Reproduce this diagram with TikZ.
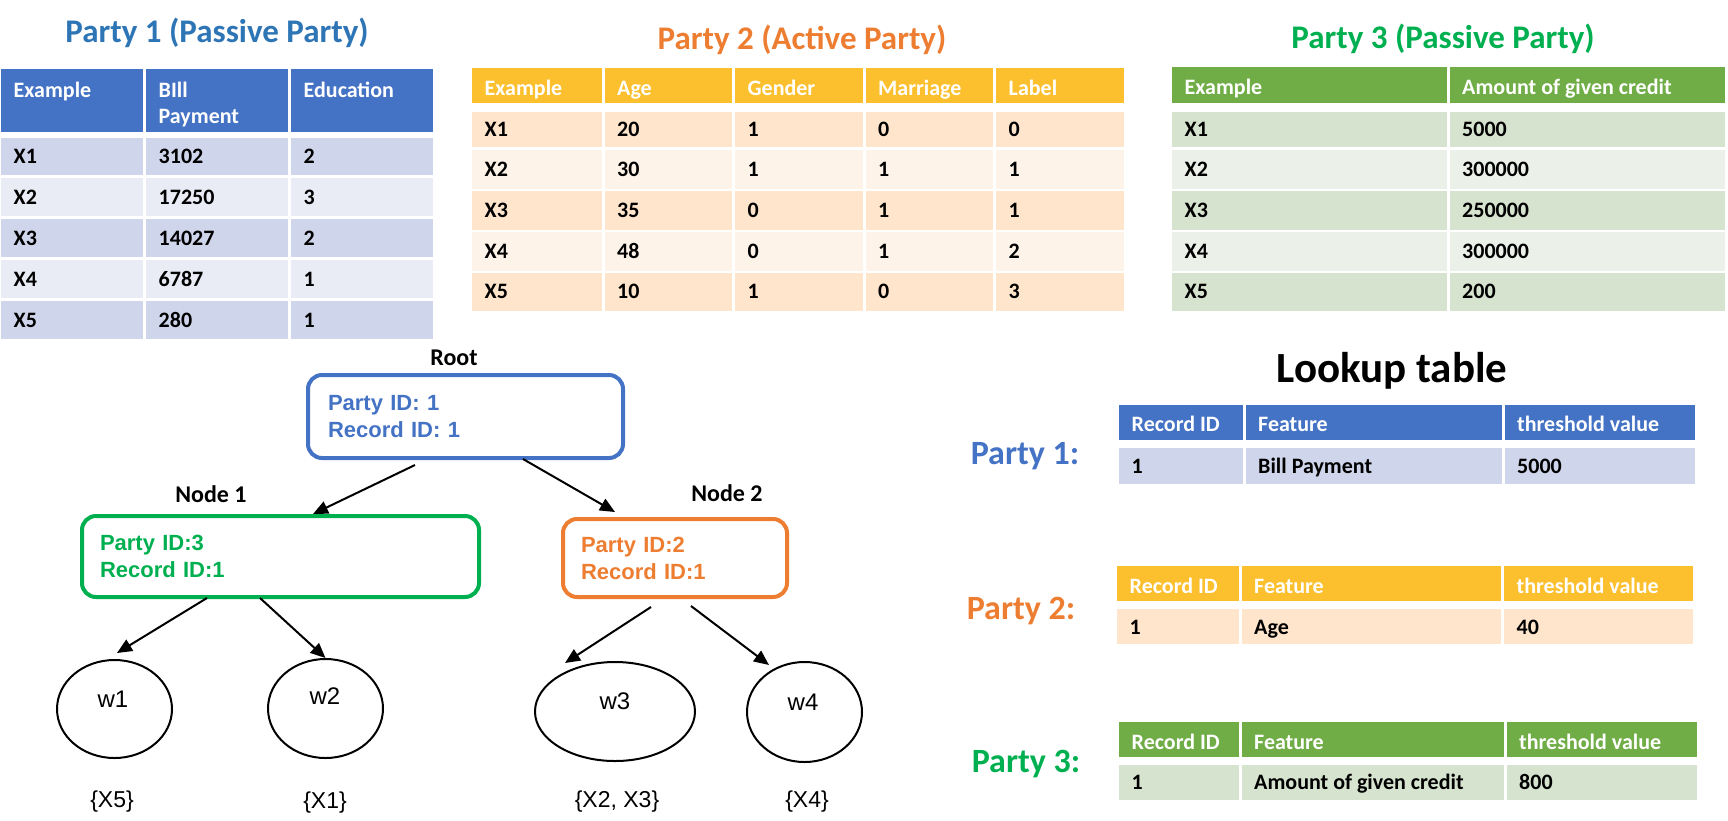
\documentclass[tikz,border=0pt]{standalone}
\usepackage{fontspec}
\setmainfont{Carlito}
\newfontfamily\arialf{Liberation Sans}
\usetikzlibrary{arrows.meta,calc,shapes.geometric}

\definecolor{hblue}{HTML}{4472C4}
\definecolor{tblue}{HTML}{2E75B6}
\definecolor{rblueA}{HTML}{CFD5EA}
\definecolor{rblueB}{HTML}{E9EBF5}
\definecolor{hgold}{HTML}{FCBF2D}
\definecolor{rgoldA}{HTML}{FEE5CC}
\definecolor{rgoldB}{HTML}{FEF3E8}
\definecolor{hgreen}{HTML}{70AD47}
\definecolor{rgreenA}{HTML}{D6E3CF}
\definecolor{rgreenB}{HTML}{EBF1E9}
\definecolor{pgreen}{HTML}{00B050}
\definecolor{porange}{HTML}{ED7D31}

% #1 name prefix, #2 y top, #3 y bottom, #4 fill, #5 text style, #6 baseline, #7 list xa/xb/text
\newcommand\tabrow[7]{%
  \foreach \xa/\xb/\tx [count=\ci] in {#7}{%
    \fill[#4] (\xa+1.5,#2) rectangle (\xb-1.5,#3);
    \node[#5] (#1-\ci) at (\xa+14,#6) {\tx};
  }}

\begin{document}
\begin{tikzpicture}[x=1pt,y=-1pt,
  tabtxt/.style={anchor=base west, inner sep=0pt, font=\fontsize{22}{26}\selectfont\bfseries, text=black},
  hdtxt/.style={tabtxt, text=white},
  ttl/.style={anchor=base, inner sep=0pt, font=\fontsize{33}{40}\selectfont\bfseries},
  plabel/.style={anchor=base, inner sep=0pt, font=\fontsize{34}{40}\selectfont\bfseries},
  treebox/.style={draw, line width=4pt, rounded corners=14pt, align=left, inner xsep=18pt, inner ysep=0pt, font=\arialf\bfseries\fontsize{22}{27}\selectfont},
  tlabel/.style={anchor=base, inner sep=0pt, font=\fontsize{24}{28}\selectfont\bfseries},
  leaf/.style={ellipse, draw, line width=2pt, inner sep=0pt},
  leaftxt/.style={anchor=base, inner sep=0pt, font=\arialf\fontsize{24}{28}\selectfont},
  settxt/.style={anchor=base, inner sep=0pt, font=\arialf\fontsize{23}{27}\selectfont},
  arr/.style={line width=2pt, -{Triangle[length=15pt,width=13pt]}},
]
\useasboundingbox (0,0) rectangle (1728,820);

% ---------------- Party 1 table ----------------
\node[ttl, text=tblue] (t1) at (217,42) {Party 1 (Passive Party)};
\foreach \xa/\xb in {-0.5/144.5,144.5/289.5,289.5/434.5} \fill[hblue] (\xa+1.5,69) rectangle (\xb-1.5,132);
\node[hdtxt] (p1h1) at (13.5,97) {Example};
\node[hdtxt] (p1h2) at (158.5,97) {BIll};
\node[hdtxt] (p1h2b) at (158.5,123) {Payment};
\node[hdtxt] (p1h3) at (303.5,97) {Education};
\tabrow{p1r1}{138}{175}{rblueA}{tabtxt}{163.5}{-0.5/144.5/X1,144.5/289.5/3102,289.5/434.5/2}
\tabrow{p1r2}{178}{216}{rblueB}{tabtxt}{204.5}{-0.5/144.5/X2,144.5/289.5/17250,289.5/434.5/3}
\tabrow{p1r3}{218.5}{257}{rblueA}{tabtxt}{245.5}{-0.5/144.5/X3,144.5/289.5/14027,289.5/434.5/2}
\tabrow{p1r4}{260}{298}{rblueB}{tabtxt}{286.5}{-0.5/144.5/X4,144.5/289.5/6787,289.5/434.5/1}
\tabrow{p1r5}{301}{339}{rblueA}{tabtxt}{327.5}{-0.5/144.5/X5,144.5/289.5/280,289.5/434.5/1}

% ---------------- Party 2 table ----------------
\node[ttl, text=porange] (t2) at (802,49) {Party 2 (Active Party)};
\tabrow{p2h}{68}{103}{hgold}{hdtxt}{95}{470.5/603/Example,603/733.5/Age,733.5/864/Gender,864/994.5/Marriage,994.5/1125.5/Label}
\tabrow{p2r1}{111.5}{147}{rgoldA}{tabtxt}{136}{470.5/603/X1,603/733.5/20,733.5/864/1,864/994.5/0,994.5/1125.5/0}
\tabrow{p2r2}{149.5}{188.5}{rgoldB}{tabtxt}{176.5}{470.5/603/X2,603/733.5/30,733.5/864/1,864/994.5/1,994.5/1125.5/1}
\tabrow{p2r3}{191}{229.5}{rgoldA}{tabtxt}{217}{470.5/603/X3,603/733.5/35,733.5/864/0,864/994.5/1,994.5/1125.5/1}
\tabrow{p2r4}{232}{270.5}{rgoldB}{tabtxt}{258}{470.5/603/X4,603/733.5/48,733.5/864/0,864/994.5/1,994.5/1125.5/2}
\tabrow{p2r5}{273}{311}{rgoldA}{tabtxt}{298.5}{470.5/603/X5,603/733.5/10,733.5/864/1,864/994.5/0,994.5/1125.5/3}

% ---------------- Party 3 table ----------------
\node[ttl, text=pgreen] (t3) at (1443,48) {Party 3 (Passive Party)};
\tabrow{p3h}{67}{103}{hgreen}{hdtxt}{94.5}{1170.5/1448/Example,1448/1726.5/Amount of given credit}
\tabrow{p3r1}{111.5}{147}{rgreenA}{tabtxt}{136}{1170.5/1448/X1,1448/1726.5/5000}
\tabrow{p3r2}{149.5}{188.5}{rgreenB}{tabtxt}{176.5}{1170.5/1448/X2,1448/1726.5/300000}
\tabrow{p3r3}{191}{229.5}{rgreenA}{tabtxt}{217}{1170.5/1448/X3,1448/1726.5/250000}
\tabrow{p3r4}{232}{270.5}{rgreenB}{tabtxt}{258}{1170.5/1448/X4,1448/1726.5/300000}
\tabrow{p3r5}{273}{311}{rgreenA}{tabtxt}{298.5}{1170.5/1448/X5,1448/1726.5/200}

% ---------------- Tree ----------------
\node[tlabel] (rootlab) at (454,365) {Root};
\node[treebox, draw=hblue, text=hblue, inner xsep=20pt, text width=275pt, minimum width=315pt, minimum height=83pt] (root) at (465.5,416.5) {Party ID: 1\\Record ID: 1};
\node[tlabel] (n1lab) at (211,502) {Node 1};
\node[treebox, draw=pgreen, text=pgreen, text width=361pt, minimum width=397pt, minimum height=81pt] (n1) at (280.5,556.5) {Party ID:3\\Record ID:1};
\node[tlabel] (n2lab) at (727,501) {Node 2};
\node[treebox, draw=porange, text=porange, text width=188pt, minimum width=224pt, minimum height=78pt] (n2) at (675,558) {Party ID:2\\Record ID:1};

\node[leaf, minimum width=115pt, minimum height=98pt] (w1) at (114.5,709) {};
\node[leaf, minimum width=115pt, minimum height=99pt] (w2) at (325.5,708.5) {};
\node[leaf, minimum width=160pt, minimum height=99pt] (w3) at (615,711.5) {};
\node[leaf, minimum width=115pt, minimum height=100pt] (w4) at (804.5,712) {};
\node[leaftxt] (w1t) at (113,707) {w1};
\node[leaftxt] (w2t) at (325,704) {w2};
\node[leaftxt] (w3t) at (615,709) {w3};
\node[leaftxt] (w4t) at (803,710) {w4};
\node[settxt] (s1) at (112,807) {\{X5\}};
\node[settxt] (s2) at (325,808) {\{X1\}};
\node[settxt] (s3) at (617,807) {\{X2, X3\}};
\node[settxt] (s4) at (807,807) {\{X4\}};

\draw[arr] ($(root.south)+(-50.5,5)$) -- ($(n1.north)+(32.5,0)$);
\draw[arr] ($(root.south)+(57.5,-1)$) -- ($(n2.north)+(-60,-5)$);
\draw[arr] ($(n1.south)+(-73.5,-1)$) -- ($(w1.north)+(2.5,-6)$);
\draw[arr] ($(n1.south)+(-20.5,-1)$) -- (w2.north);
\draw[arr] ($(n2.south)+(-24,8)$) -- ($(w3.north)+(-50,2)$);
\draw[arr] ($(n2.south)+(16,7)$) -- ($(w4.north)+(-35.5,4)$);

% ---------------- Lookup tables ----------------
\node[anchor=base, inner sep=0pt, font=\fontsize{43}{50}\selectfont\bfseries] (lt) at (1392,382) {Lookup table};
\node[plabel, text=hblue] (lp1) at (1025,464) {Party 1:};
\node[plabel, text=porange] (lp2) at (1021,619) {Party 2:};
\node[plabel, text=pgreen] (lp3) at (1026,772.5) {Party 3:};

\tabrow{l1h}{405}{440}{hblue}{hdtxt}{431.5}{1117.5/1244/Record ID,1244/1503/Feature,1503/1696.5/threshold value}
\tabrow{l1r}{448}{484}{rblueA}{tabtxt}{473}{1117.5/1244/1,1244/1503/Bill Payment,1503/1696.5/5000}
\tabrow{l2h}{566}{601}{hgold}{hdtxt}{593}{1115.5/1240/Record ID,1240/1502.5/Feature,1502.5/1694.5/threshold value}
\tabrow{l2r}{609}{644}{rgoldA}{tabtxt}{634}{1115.5/1240/1,1240/1502.5/Age,1502.5/1694.5/40}
\tabrow{l3h}{722}{757}{hgreen}{hdtxt}{749}{1117.5/1240/Record ID,1240/1505/Feature,1505/1698.5/threshold value}
\tabrow{l3r}{765}{800}{rgreenA}{tabtxt}{789.5}{1117.5/1240/1,1240/1505/Amount of given credit,1505/1698.5/800}
\end{tikzpicture}
\end{document}
